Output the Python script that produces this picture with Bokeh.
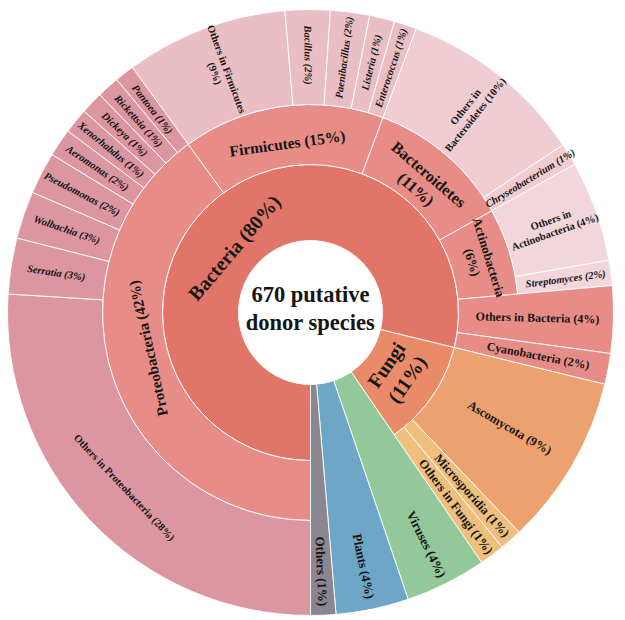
import math
from bokeh.plotting import figure
from bokeh.models import ColumnDataSource, Range1d
from bokeh.core.properties import value, field
from bokeh.embed import file_html
from bokeh.resources import INLINE

# ---------------- data (species counts) ----------------
kingdom_names = ["Bacteria", "Fungi", "Viruses", "Plants", "Others"]
kingdom_pct = ["80%", "11%", "4%", "4%", "1%"]
kingdom_leaf_counts = [0, 0, 29, 26, 9]          # 0 = value comes from sub-groups

phylum_names = ["Proteobacteria", "Firmicutes", "Bacteroidetes", "Actinobacteria",
                "Others in Bacteria", "Cyanobacteria",
                "Ascomycota", "Microsporidia", "Others in Fungi"]
phylum_parent = ["Bacteria"] * 6 + ["Fungi"] * 3
phylum_pct = ["42%", "15%", "11%", "6%", "4%", "2%", "9%", "1%", "1%"]
phylum_leaf_counts = [0, 0, 0, 0, 24, 11, 61, 8, 9]

genus_names = ["Others in Proteobacteria", "Serratia", "Wolbachia", "Pseudomonas",
               "Aeromonas", "Xenorhabdus", "Dickeya", "Rickettsia", "Pantoea",
               "Others in Firmicutes", "Bacillus", "Paenibacillus", "Listeria", "Enterococcus",
               "Others in Bacteroidetes", "Chryseobacterium",
               "Others in Actinobacteria", "Streptomyces"]
genus_parent = (["Proteobacteria"] * 9 + ["Firmicutes"] * 5 +
                ["Bacteroidetes"] * 2 + ["Actinobacteria"] * 2)
genus_pct = ["28%", "3%", "3%", "2%", "2%", "1%", "1%", "1%", "1%",
             "9%", "2%", "2%", "1%", "1%", "10%", "1%", "4%", "2%"]
genus_counts = [174, 20, 17, 15, 10, 9, 8, 8, 7, 58, 16, 14, 9, 8, 67, 8, 36, 9]

# ---------------- styles ----------------
COLORS = {
    "Bacteria": "#E07568", "Fungi": "#E98B69", "Viruses": "#93C89B",
    "Plants": "#6DA6C6", "Others": "#8B8790",
    "Proteobacteria": "#E88C88", "Firmicutes": "#E88C88", "Bacteroidetes": "#E88C88",
    "Actinobacteria": "#E88C88", "Others in Bacteria": "#E88C88", "Cyanobacteria": "#E88C88",
    "Ascomycota": "#EDA16F", "Microsporidia": "#EFBF7D", "Others in Fungi": "#EFBF7D",
}
GENUS_COLORS = {"Proteobacteria": "#DC96A1", "Firmicutes": "#EABEC5",
                "Bacteroidetes": "#F0CDD2", "Actinobacteria": "#F2D6DB"}

LABEL_FMT = {
    "Fungi": "Fungi\n({p})",
    "Bacteroidetes": "Bacteroidetes\n({p})",
    "Actinobacteria": "Actinobacteria\n({p})",
    "Others in Firmicutes": "Others in Firmicutes\n({p})",
    "Others in Bacteroidetes": "Others in\nBacteroidetes ({p})",
    "Others in Actinobacteria": "Others in\nActinobacteria ({p})",
}
LABEL_STYLE = {
    "Bacteria": dict(orient="tan", size="20px", frac=0.37, shift=11.5),
    "Fungi": dict(orient="tan", size="20px", frac=0.43),
    "Viruses": dict(size="13px", frac=0.81),
    "Plants": dict(size="13px", frac=0.81),
    "Others": dict(size="13px", frac=0.81),
    "Proteobacteria": dict(orient="tan", size="15px", frac=0.3, shift=-5.6),
    "Firmicutes": dict(orient="tan", size="15.5px", frac=0.38),
    "Bacteroidetes": dict(orient="tan", size="16px", frac=0.4),
    "Actinobacteria": dict(orient="tan", size="13px", frac=0.5),
    "Others in Bacteria": dict(size="12px", frac=0.51),
    "Cyanobacteria": dict(size="12px", frac=0.54),
    "Ascomycota": dict(size="12.5px", frac=0.53),
    "Microsporidia": dict(size="12.5px", frac=0.62),
    "Others in Fungi": dict(size="12.5px", frac=0.61),
    "Others in Proteobacteria": dict(orient="tan", size="10.5px", frac=0.5),
}
FONT = "Liberation Serif"
TEXT_COLOR = "#151515"

# ---------------- hierarchy values ----------------
g_val = dict(zip(genus_names, genus_counts))
p_val = {}
for n, c in zip(phylum_names, phylum_leaf_counts):
    kids = [g for g, par in zip(genus_names, genus_parent) if par == n]
    p_val[n] = sum(g_val[k] for k in kids) if kids else c
k_val = {}
for n, c in zip(kingdom_names, kingdom_leaf_counts):
    kids = [q for q, par in zip(phylum_names, phylum_parent) if par == n]
    k_val[n] = sum(p_val[k] for k in kids) if kids else c
total = sum(k_val.values())

R0, R1, R2, R3 = 72, 148, 208, 303
deg_per = 360.0 / total


def ang(s):
    # clockwise from the bottom (math degrees)
    return 270.0 - s * deg_per


nodes = []
s = 0
for k, kp in zip(kingdom_names, kingdom_pct):
    kphy = [(q, pp) for q, pp, par in zip(phylum_names, phylum_pct, phylum_parent) if par == k]
    nodes.append(dict(name=k, pct=kp, level=1, s0=s, s1=s + k_val[k], r_in=R0,
                      r_out=R1 if kphy else R3, color=COLORS[k]))
    ps = s
    for q, pp in kphy:
        gen = [(g, gp) for g, gp, par in zip(genus_names, genus_pct, genus_parent) if par == q]
        nodes.append(dict(name=q, pct=pp, level=2, s0=ps, s1=ps + p_val[q], r_in=R1,
                          r_out=R2 if gen else R3, color=COLORS[q]))
        gs = ps
        for g, gp in gen:
            nodes.append(dict(name=g, pct=gp, level=3, s0=gs, s1=gs + g_val[g], r_in=R2,
                              r_out=R3, color=GENUS_COLORS[q]))
            gs += g_val[g]
        ps += p_val[q]
    s += k_val[k]

wedges = dict(start=[], end=[], rin=[], rout=[], color=[])
labels = dict(x=[], y=[], text=[], angle=[], size=[], style=[])


def norm(a):
    while a > 180:
        a -= 360
    while a <= -180:
        a += 360
    return a


for n in nodes:
    a0, a1 = ang(n["s0"]), ang(n["s1"])
    wedges["start"].append(math.radians(a1))
    wedges["end"].append(math.radians(a0))
    wedges["rin"].append(n["r_in"])
    wedges["rout"].append(n["r_out"])
    wedges["color"].append(n["color"])

    st = LABEL_STYLE.get(n["name"], {})
    orient = st.get("orient", "rad")
    size = st.get("size", "10.5px")
    frac = st.get("frac", 0.52)
    mid = norm((a0 + a1) / 2.0 + st.get("shift", 0.0))
    r = n["r_in"] + frac * (n["r_out"] - n["r_in"])
    if orient == "rad":
        rot = mid if -90 < mid <= 90 else mid - 180
    else:
        rot = norm(mid - 90)
        if abs(rot) > 115:
            rot = norm(rot + 180)
    fmt = LABEL_FMT.get(n["name"], "{n} ({p})")
    italic = n["level"] == 3 and not n["name"].startswith("Others")
    labels["x"].append(r * math.cos(math.radians(mid)))
    labels["y"].append(r * math.sin(math.radians(mid)))
    labels["text"].append(fmt.format(n=n["name"], p=n["pct"]))
    labels["angle"].append(math.radians(rot))
    labels["size"].append(size)
    labels["style"].append("bold italic" if italic else "bold")

# ---------------- figure ----------------
W, H = 620, 618
cx, cy = 310, 312
p = figure(width=W, height=H, output_backend="svg", toolbar_location=None,
           x_axis_type=None, y_axis_type=None,
           x_range=Range1d(-cx, W - cx), y_range=Range1d(cy - H, cy),
           min_border=0, outline_line_color=None, background_fill_color="white",
           border_fill_color="white")
p.grid.visible = False

p.annular_wedge(x=0, y=0, inner_radius="rin", outer_radius="rout",
                start_angle="start", end_angle="end", fill_color="color",
                line_color="white", line_width=1, line_alpha=0.9,
                source=ColumnDataSource(wedges))

p.text(x="x", y="y", text="text", angle="angle", source=ColumnDataSource(labels),
       text_font=value(FONT), text_font_size=field("size"), text_font_style=field("style"),
       text_align="center", text_baseline="middle", text_color=TEXT_COLOR,
       text_line_height=1.15)

p.text(x=[0], y=[4], text=[f"{total} putative\ndonor species"],
       text_font=value(FONT), text_font_size="22.5px", text_font_style="bold",
       text_align="center", text_baseline="middle", text_color=TEXT_COLOR,
       text_line_height=1.1)

open("out.html", "w").write(file_html(p, INLINE))
